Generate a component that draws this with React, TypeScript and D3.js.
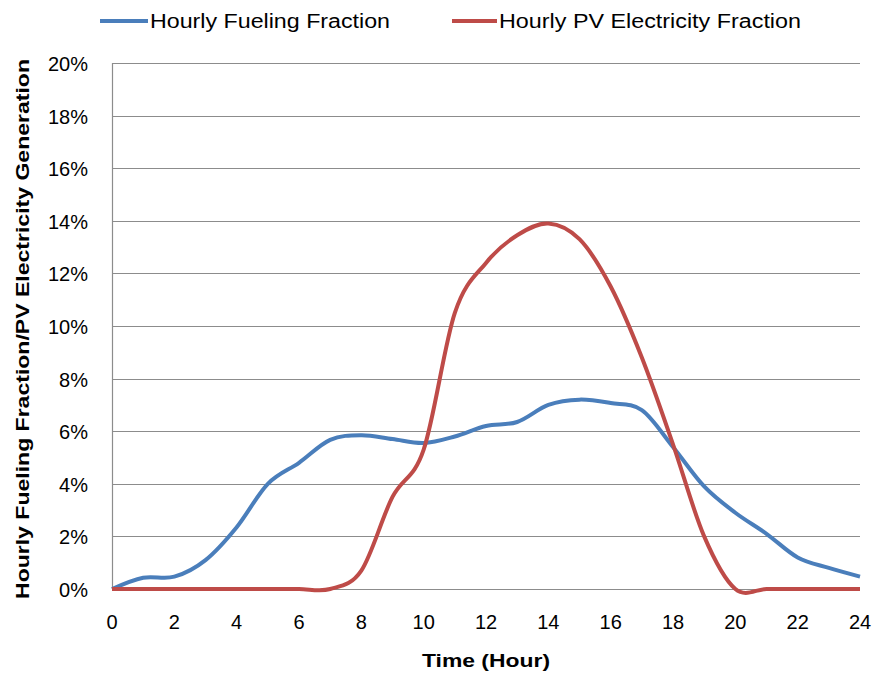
import React, { useEffect, useRef } from "react";
import * as d3 from "d3";

const hours = [0, 1, 2, 3, 4, 5, 6, 7, 8, 9, 10, 11, 12, 13, 14, 15, 16, 17, 18, 19, 20, 21, 22, 23, 24];
const fueling = [0, 0.43, 0.47, 1.1, 2.35, 4.0, 4.8, 5.67, 5.85, 5.7, 5.55, 5.8, 6.2, 6.35, 7.0, 7.2, 7.07, 6.8, 5.4, 3.9, 2.9, 2.1, 1.2, 0.8, 0.47];
const pv = [0, 0, 0, 0, 0, 0, 0, 0, 0.7, 3.5, 5.3, 10.5, 12.4, 13.45, 13.9, 13.3, 11.5, 8.8, 5.5, 2.0, 0, 0, 0, 0, 0];
const yTicks = [0, 2, 4, 6, 8, 10, 12, 14, 16, 18, 20];
const xTicks = [0, 2, 4, 6, 8, 10, 12, 14, 16, 18, 20, 22, 24];
const seriesNames = ["Hourly Fueling Fraction", "Hourly PV Electricity Fraction"];
const seriesColors = ["#4A7EBB", "#BE4B48"];

const FONT = "'Liberation Sans', Arial, sans-serif";

export default function App() {
  const ref = useRef<SVGSVGElement | null>(null);

  useEffect(() => {
    const width = 874;
    const height = 673;
    const margin = { top: 63, right: 14, bottom: 84, left: 112 };
    const w = width - margin.left - margin.right;
    const h = height - margin.top - margin.bottom;

    d3.select(ref.current).selectAll("*").remove();
    const root = d3.select(ref.current).attr("width", width).attr("height", height);

    const svg = root.append("g").attr("transform", `translate(${margin.left},${margin.top})`);

    const x = d3.scaleLinear().domain([0, 24]).range([0, w]);
    const y = d3.scaleLinear().domain([0, 20]).range([h, 0]);

    // gridlines
    svg
      .selectAll(".grid")
      .data(yTicks)
      .enter()
      .append("line")
      .attr("x1", 0)
      .attr("x2", w)
      .attr("y1", (d) => Math.round(y(d)) + 0.5)
      .attr("y2", (d) => Math.round(y(d)) + 0.5)
      .attr("stroke", "#8c8c8c")
      .attr("stroke-width", 1.2);

    // left axis line
    svg
      .append("line")
      .attr("x1", 0.5)
      .attr("x2", 0.5)
      .attr("y1", 0)
      .attr("y2", h)
      .attr("stroke", "#8c8c8c")
      .attr("stroke-width", 1.2);

    // y tick labels
    svg
      .selectAll(".ytick")
      .data(yTicks)
      .enter()
      .append("text")
      .attr("x", -24)
      .attr("y", (d) => y(d) + 8)
      .attr("text-anchor", "end")
      .style("font-family", FONT)
      .style("font-size", "20px")
      .attr("fill", "#000")
      .text((d) => `${d}%`);

    // x tick labels
    svg
      .selectAll(".xtick")
      .data(xTicks)
      .enter()
      .append("text")
      .attr("x", (d) => x(d))
      .attr("y", h + 40)
      .attr("text-anchor", "middle")
      .style("font-family", FONT)
      .style("font-size", "20px")
      .attr("fill", "#000")
      .text((d) => d.toString());

    // axis titles
    svg
      .append("text")
      .attr("x", x(12))
      .attr("y", h + 78)
      .attr("text-anchor", "middle")
      .style("font-family", FONT)
      .style("font-size", "19px")
      .style("font-weight", "bold")
      .attr("textLength", 128)
      .attr("lengthAdjust", "spacingAndGlyphs")
      .text("Time (Hour)");

    svg
      .append("text")
      .attr("transform", `translate(${-83},${h / 2 + 3}) rotate(-90)`)
      .attr("text-anchor", "middle")
      .style("font-family", FONT)
      .style("font-size", "19px")
      .style("font-weight", "bold")
      .attr("textLength", 540)
      .attr("lengthAdjust", "spacingAndGlyphs")
      .text("Hourly Fueling Fraction/PV Electricity Generation");

    // lines
    const line = d3
      .line<number>()
      .x((_, i) => x(hours[i]))
      .y((d) => y(d))
      .curve(d3.curveCatmullRom.alpha(0));

    [fueling, pv].forEach((values, i) => {
      svg
        .append("path")
        .datum(values)
        .attr("fill", "none")
        .attr("stroke", seriesColors[i])
        .attr("stroke-width", 4)
        .attr("stroke-linejoin", "round")
        .attr("d", line);
    });

    // legend
    const legendItems = [
      { x0: 100, x1: 148, tx: 150, len: 240 },
      { x0: 452, x1: 497, tx: 499, len: 302 },
    ];
    legendItems.forEach((it, i) => {
      root
        .append("line")
        .attr("x1", it.x0)
        .attr("x2", it.x1)
        .attr("y1", 21)
        .attr("y2", 21)
        .attr("stroke", seriesColors[i])
        .attr("stroke-width", 4);
      root
        .append("text")
        .attr("x", it.tx)
        .attr("y", 28)
        .style("font-family", FONT)
        .style("font-size", "20px")
        .attr("textLength", it.len)
        .attr("lengthAdjust", "spacingAndGlyphs")
        .attr("fill", "#000")
        .text(seriesNames[i]);
    });
  }, []);

  return (
    <svg
      ref={ref}
      style={{ position: "absolute", left: 0, top: 0, background: "#fff" }}
    ></svg>
  );
}
